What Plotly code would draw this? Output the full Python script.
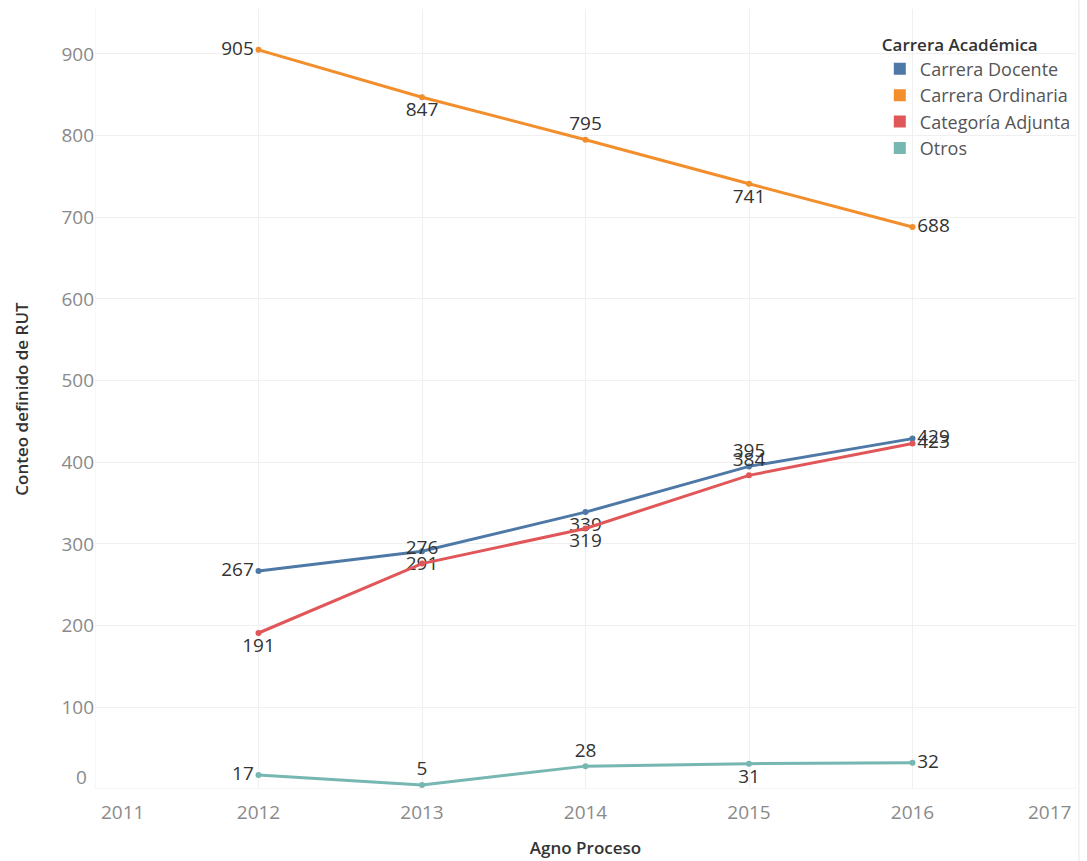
import plotly.graph_objects as go

# Yearly counts per academic career track
years = [2012, 2013, 2014, 2015, 2016]
carrera_docente = [267, 291, 339, 395, 429]
carrera_ordinaria = [905, 847, 795, 741, 688]
categoria_adjunta = [191, 276, 319, 384, 423]
otros = [17, 5, 28, 31, 32]

x_tick_years = [2011, 2012, 2013, 2014, 2015, 2016, 2017]
y_tick_values = [0, 100, 200, 300, 400, 500, 600, 700, 800, 900]

series = [
    ("Carrera Docente", carrera_docente, "#4e79a7",
     ["middle left", "bottom center", "bottom center", "top center", "middle right"]),
    ("Carrera Ordinaria", carrera_ordinaria, "#f28e2b",
     ["middle left", "bottom center", "top center", "bottom center", "middle right"]),
    ("Categoría Adjunta", categoria_adjunta, "#e15759",
     ["bottom center", "top center", "bottom center", "top center", "middle right"]),
    ("Otros", otros, "#76b7b2",
     ["middle left", "top center", "top center", "bottom center", "middle right"]),
]

FONT = "Open Sans"
fig = go.Figure()

for name, values, color, positions in series:
    fig.add_trace(go.Scatter(
        x=years, y=values, mode="lines+markers+text", name=name,
        line=dict(color=color, width=3),
        marker=dict(color=color, size=6),
        text=[str(v) for v in values], textposition=positions,
        textfont=dict(family=FONT, size=19, color="#333333"),
        cliponaxis=False, showlegend=False, legendgroup=name,
    ))
    # square swatch for the legend
    fig.add_trace(go.Scatter(
        x=[None], y=[None], mode="markers", name=name, legendgroup=name,
        marker=dict(color=color, size=14, symbol="square"),
        showlegend=True,
    ))

inner_x = x_tick_years[1:-1]
inner_y = y_tick_values[1:]

fig.update_layout(
    width=1087, height=861,
    margin=dict(l=95, r=11, t=9, b=72),
    plot_bgcolor="white", paper_bgcolor="white",
    font=dict(family=FONT, color="#888888"),
    legend=dict(
        title=dict(text="Carrera Académica",
                   font=dict(family=FONT, size=17, color="#333333", weight=600)),
        font=dict(family=FONT, size=18, color="#555555"),
        x=0.8, y=0.975, xanchor="left", yanchor="top",
        bgcolor="rgba(0,0,0,0)", tracegroupgap=0, itemsizing="constant",
    ),
    xaxis=dict(
        range=[x_tick_years[0], x_tick_years[-1]],
        tickvals=inner_x, ticktext=[str(v) for v in inner_x],
        tickfont=dict(family=FONT, size=19, color="#8a8a8a"),
        ticklabelstandoff=10, automargin=False,
        showgrid=True, gridcolor="#f0f0f0", gridwidth=1,
        zeroline=False, showline=False, ticks="",
        title=dict(text="Agno Proceso", standoff=18,
                   font=dict(family=FONT, size=17, color="#333333", weight=600)),
    ),
    yaxis=dict(
        range=[0, 955], automargin=False,
        tickvals=inner_y, ticktext=[str(v) for v in inner_y],
        tickfont=dict(family=FONT, size=19, color="#8a8a8a"),
        showgrid=True, gridcolor="#f0f0f0", gridwidth=1,
        zeroline=False, showline=False, ticks="",
        title=dict(text="Conteo definido de RUT", standoff=28,
                   font=dict(family=FONT, size=17, color="#333333", weight=600)),
    ),
)

# vertical gridlines at the axis ends and the baseline
for yr in (x_tick_years[0], x_tick_years[-1]):
    fig.add_shape(type="line", xref="x", yref="paper", x0=yr, x1=yr, y0=0, y1=1,
                  line=dict(color="#f0f0f0", width=1), layer="below")
fig.add_shape(type="line", xref="paper", yref="y", x0=0, x1=1, y0=0, y1=0,
              line=dict(color="#ececec", width=1), layer="below")
# outer frame on the right
fig.add_shape(type="line", xref="paper", yref="paper", x0=1.003, x1=1.003, y0=-0.095, y1=1.02,
              line=dict(color="#e3e7ec", width=1))

# edge tick labels kept inside the plot width
fig.add_annotation(x=x_tick_years[0], xref="x", y=0, yref="paper", text=str(x_tick_years[0]),
                   showarrow=False, xanchor="left", yanchor="middle", xshift=4, yshift=-23,
                   font=dict(family=FONT, size=19, color="#8a8a8a"))
fig.add_annotation(x=x_tick_years[-1], xref="x", y=0, yref="paper", text=str(x_tick_years[-1]),
                   showarrow=False, xanchor="right", yanchor="middle", xshift=-3, yshift=-23,
                   font=dict(family=FONT, size=19, color="#8a8a8a"))
fig.add_annotation(x=0, xref="paper", y=y_tick_values[0], yref="y", text=str(y_tick_values[0]),
                   showarrow=False, xanchor="right", yanchor="middle", xshift=-6, yshift=12,
                   font=dict(family=FONT, size=19, color="#8a8a8a"))

fig.write_html("out.html")
